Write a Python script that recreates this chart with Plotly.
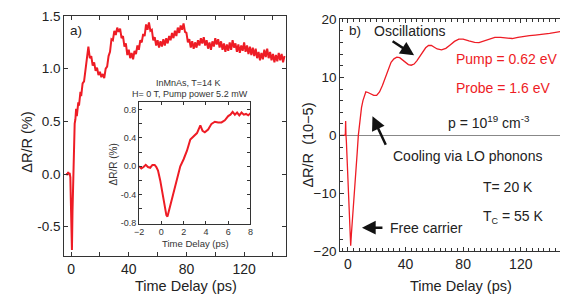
import plotly.graph_objects as go

W, H = 563, 308
RED = "#ee1c25"
FONT = "Liberation Sans, Arial, sans-serif"

# ---------------- Panel a: main trace (Delta R/R in %) ----------------
ta_early = [-3, -2.5, -2, -1.5, -1, -0.5, 0, 0.3, 0.6, 1, 1.5, 2, 2.5, 3, 3.5, 4, 4.5,
            5, 5.5, 6, 6.5, 7, 7.5, 8]
ra_early = [0.01, -0.01, 0.02, 0.0, 0.01, -0.03, -0.35, -0.65, -0.72, -0.35, 0.0, 0.3,
            0.48, 0.52, 0.62, 0.55, 0.6, 0.68, 0.65, 0.74, 0.78, 0.74, 0.82, 0.86]
ta_late = list(range(9, 149))
ra_late = [0.88, 1.01, 1.08, 1.21, 1.10, 1.12, 1.03, 1.06, 0.98, 1.01,
           0.94, 0.97, 0.92, 0.95, 0.91, 1.00, 1.02, 1.12, 1.16, 1.28,
           1.27, 1.36, 1.32, 1.39, 1.35, 1.38, 1.29, 1.31, 1.21, 1.24,
           1.13, 1.18, 1.10, 1.15, 1.09, 1.17, 1.14, 1.22, 1.18, 1.27,
           1.25, 1.33, 1.31, 1.42, 1.37, 1.44, 1.36, 1.37, 1.27, 1.30,
           1.22, 1.27, 1.20, 1.26, 1.21, 1.28, 1.22, 1.29, 1.24, 1.31,
           1.27, 1.34, 1.29, 1.36, 1.31, 1.39, 1.34, 1.41, 1.37, 1.43,
           1.35, 1.34, 1.25, 1.28, 1.20, 1.26, 1.19, 1.25, 1.20, 1.27,
           1.22, 1.29, 1.24, 1.30, 1.22, 1.27, 1.19, 1.25, 1.18, 1.26,
           1.21, 1.29, 1.23, 1.28, 1.20, 1.26, 1.18, 1.24, 1.16, 1.23,
           1.17, 1.25, 1.18, 1.27, 1.20, 1.24, 1.16, 1.23, 1.15, 1.22,
           1.17, 1.25, 1.16, 1.22, 1.14, 1.21, 1.13, 1.20, 1.12, 1.19,
           1.10, 1.16, 1.08, 1.15, 1.09, 1.18, 1.11, 1.19, 1.10, 1.16,
           1.08, 1.14, 1.06, 1.13, 1.07, 1.15, 1.08, 1.14, 1.06, 1.12]
time_a = ta_early + ta_late
dr_a = ra_early + ra_late

# ---------------- Inset (first 8 ps) ----------------
time_in = [-2, -1.8, -1.6, -1.4, -1.2, -1.0, -0.8, -0.6, -0.45, -0.3, -0.1, 0.1, 0.3,
           0.45, 0.55, 0.7, 0.85, 1.0, 1.3, 1.7, 2.0, 2.3, 2.6, 2.9, 3.2, 3.5, 3.7,
           3.9, 4.2, 4.5, 4.8, 5.1, 5.4, 5.7, 6.0, 6.2, 6.4, 6.6, 6.8, 7.0, 7.2,
           7.4, 7.6, 7.8, 8.0]
dr_in = [0.0, -0.03, -0.01, 0.02, -0.01, -0.02, 0.02, 0.02, -0.01, -0.06, -0.2, -0.38,
         -0.57, -0.69, -0.71, -0.62, -0.5, -0.4, -0.22, 0.0, 0.1, 0.22, 0.38, 0.43,
         0.47, 0.58, 0.5, 0.48, 0.52, 0.6, 0.63, 0.62, 0.62, 0.65, 0.71, 0.73, 0.77,
         0.73, 0.76, 0.72, 0.76, 0.73, 0.74, 0.72, 0.75]

# ---------------- Panel b (Delta R/R in 1e-5) ----------------
time_b = [-5.2, -2, -1.7, -1.5, -1.3, -1.0, 0.0, 1.0, 2.0, 2.5, 3.5, 4.5, 5.5, 6.5, 7.3,
          8.5, 9.5, 10.5, 11.5, 12.5, 14, 16, 18, 20, 22, 24, 26, 28, 30, 32, 34,
          36, 38, 40, 42, 44, 46, 48, 50, 52, 54, 56, 58, 60, 62, 65, 68, 71, 74,
          77, 80, 84, 88, 91, 95, 99, 102, 106, 110, 114, 118, 122, 126, 130, 135,
          140, 147.5]
dr_b = [0, 0, 0.3, 2.5, 0.2, -1.0, -7.5, -13.5, -19, -17, -13, -9.5, -6, -3, 0,
        2.8, 4.8, 6.0, 7.0, 7.5, 7.4, 7.1, 6.9, 6.9, 7.5, 8.6, 10.0, 11.5, 12.6,
        13.2, 13.5, 13.4, 13.0, 12.5, 12.2, 12.1, 12.3, 12.9, 13.7, 14.5, 15.1,
        15.5, 15.5, 15.2, 14.9, 14.75, 15.0, 15.6, 16.2, 16.6, 16.6, 16.3, 16.05,
        16.0, 16.3, 16.7, 16.9, 16.9, 16.75, 16.7, 16.9, 17.1, 17.2, 17.3, 17.4,
        17.6, 17.9]

fig = go.Figure()
fig.add_trace(go.Scatter(x=time_a, y=dr_a, mode="lines", xaxis="x", yaxis="y",
                         line=dict(color=RED, width=2), showlegend=False))
fig.add_trace(go.Scatter(x=time_in, y=dr_in, mode="lines", xaxis="x3", yaxis="y3",
                         line=dict(color=RED, width=2), showlegend=False))
fig.add_trace(go.Scatter(x=time_b, y=dr_b, mode="lines", xaxis="x2", yaxis="y2",
                         line=dict(color=RED, width=1.3), showlegend=False))


def px(x):
    return x / W


def py(y):
    return 1 - y / H


AX = "#333333"
common = dict(showgrid=False, zeroline=False, showline=True, linecolor=AX, linewidth=1,
              ticks="inside", tickcolor=AX, ticklen=4, tickwidth=1,
              tickfont=dict(family=FONT, size=14, color="#222"))

layout = dict(
    width=W, height=H, margin=dict(l=0, r=0, t=0, b=0),
    paper_bgcolor="white", plot_bgcolor="rgba(0,0,0,0)",
    font=dict(family=FONT, color="#222"),
    xaxis=dict(common, domain=[px(60), px(285)], range=[-4.8, 149], anchor="y",
               mirror="ticks", tickvals=[0, 40, 80, 120],
               minor=dict(dtick=20, tick0=0, ticks="inside", ticklen=4, tickcolor=AX)),
    yaxis=dict(common, domain=[py(262), py(9.5)], range=[-0.78, 1.5], anchor="x",
               mirror="ticks", tickvals=[-0.5, 0.0, 0.5, 1.0, 1.5],
               ticktext=["-0.5", "0.0", "0.5", "1.0", "1.5"],
               tickfont=dict(family=FONT, size=13.5, color="#222")),
    xaxis2=dict(common, domain=[px(340), 1.0], range=[-5.3, 147.2], anchor="y2",
                mirror="ticks", tickvals=[0, 40, 80, 120],
                minor=dict(dtick=4, tick0=0, ticks="inside", ticklen=3, tickcolor=AX)),
    yaxis2=dict(common, domain=[py(257), py(13)], range=[-20, 20], anchor="x2",
                mirror=False, tickvals=[-20, -10, 0, 10, 20],
                zeroline=True, zerolinecolor="#888", zerolinewidth=1.2,
                tickfont=dict(family=FONT, size=13.5, color="#222"),
                minor=dict(dtick=2, tick0=0, ticks="inside", ticklen=3, tickcolor=AX)),
    xaxis3=dict(common, domain=[px(136), px(249)], range=[-2, 8], anchor="y3",
                mirror="ticks", dtick=2, ticklen=3,
                tickfont=dict(family=FONT, size=9, color="#333")),
    yaxis3=dict(common, domain=[py(227.7), py(100)], range=[-0.81, 0.907], anchor="x3",
                mirror="ticks", tickvals=[-0.8, -0.4, 0.0, 0.4, 0.8], ticklen=3,
                ticktext=["-0.8", "-0.4", "0.0", "0.4", "0.8"],
                tickfont=dict(family=FONT, size=9, color="#333"),
                minor=dict(dtick=0.2, tick0=0, ticks="inside", ticklen=3, tickcolor=AX)),
)


def txt(x, y, s, size=14, color="#222", angle=0, xanchor="center"):
    return dict(x=px(x), y=py(y), xref="paper", yref="paper", text=s, showarrow=False,
                xanchor=xanchor, yanchor="middle", textangle=angle,
                font=dict(family=FONT, size=size, color=color))


ann = [
    txt(72, 25, "a)", 13.5),
    txt(22, 142, "ΔR/R (%)", 14.5, angle=-90),
    txt(184, 293, "Time Delay (ps)", 14.5),
    txt(186, 79.5, "InMnAs, T=14 K", 9, "#333"),
    txt(188, 91.5, "H= 0 T, Pump power 5.2 mW", 9, "#333"),
    txt(111, 165, "ΔR/R (%)", 10, "#333", angle=-90),
    txt(193, 249, "Time Delay (ps)", 9.5, "#333"),
    txt(355, 25, "b)", 13.5),
    txt(307, 145, "ΔR/R  (10−5)", 14.5, angle=-90),
    txt(463, 293, "Time Delay (ps)", 14.5),
    txt(411, 25, "Oscillations", 14),
    txt(455, 55, "Pump = 0.62 eV", 14, RED, xanchor="left"),
    txt(455, 85, "Probe = 1.6 eV", 14, RED, xanchor="left"),
    txt(447, 121, "p = 10<sup>19</sup> cm<sup>-3</sup>", 14, xanchor="left"),
    txt(392, 157, "Cooling via LO phonons", 14, xanchor="left"),
    txt(483, 189, "T= 20 K", 14, xanchor="left"),
    txt(483, 221, "T<sub><span style='font-size:9px'>C</span></sub> = 55 K", 14, xanchor="left"),
    txt(389, 232, "Free carrier", 14, xanchor="left"),
]


def arrow(x, y, ax, ay):
    return dict(x=x, y=y, xref="x2", yref="y2", ax=ax, ay=ay, axref="pixel", ayref="pixel",
                text="", showarrow=True, arrowhead=2, arrowsize=1.1, arrowwidth=2.5,
                arrowcolor="#111", standoff=0)


ann += [
    arrow(46, 13.8, -23, -15),
    arrow(17.1, 3.3, 14, 30),
    arrow(9.8, -15.9, 22, 0),
]
layout["annotations"] = ann

fig.update_layout(**layout)
fig.write_html(
    "out.html",
    config={"displayModeBar": False},
    post_script="document.body.style.margin='0';document.body.style.overflow='hidden';",
)
